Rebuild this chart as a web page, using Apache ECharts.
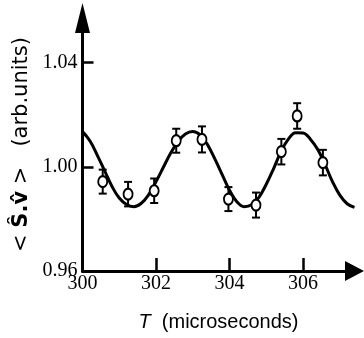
<!DOCTYPE html>
<html>
<head>
<meta charset="utf-8">
<script src="https://cdn.jsdelivr.net/npm/echarts@6/dist/echarts.min.js"></script>
<style>
html,body{margin:0;padding:0;background:#fff;}
#c{width:364px;height:338px;}
</style>
</head>
<body>
<div id="c"></div>
<script>
// Fitted curve
const curveT = [300.0, 300.2, 300.4, 300.6, 300.8, 301.0, 301.2, 301.4, 301.6, 301.8,
  302.0, 302.2, 302.4, 302.6, 302.8, 303.0, 303.2, 303.4, 303.6, 303.8,
  304.0, 304.2, 304.4, 304.6, 304.8, 305.0, 305.2, 305.4, 305.6, 305.8,
  306.0, 306.2, 306.4, 306.6, 306.8, 307.0, 307.2, 307.4];
const curveV = [1.0135, 1.0100, 1.0045, 0.9985, 0.9925, 0.9880, 0.9855, 0.9847, 0.9860, 0.9893,
  0.9943, 0.9998, 1.0053, 1.0097, 1.0126, 1.0135, 1.0122, 1.0085, 1.0030, 0.9970,
  0.9910, 0.9866, 0.9847, 0.9854, 0.9883, 0.9933, 0.9993, 1.0058, 1.0106, 1.0131,
  1.0130, 1.0106, 1.0066, 1.0008, 0.9943, 0.9891, 0.9858, 0.9844];
// Measured points with error bars
const pointT = [300.55, 301.24, 301.95, 302.55, 303.25, 303.97, 304.72, 305.41, 305.84, 306.54];
const pointV = [0.9943, 0.9895, 0.9908, 1.0100, 1.0105, 0.9876, 0.9853, 1.0058, 1.0195, 1.0016];
const pointErr = [0.0046, 0.0047, 0.0047, 0.0046, 0.0050, 0.0046, 0.0048, 0.0049, 0.0049, 0.0049];
// Axis ticks
const xTicks = [300, 302, 304, 306];
const yTicks = [0.96, 1.00, 1.04];

const curveData = curveT.map((t, i) => [t, curveV[i]]);
const pointData = pointT.map((t, i) => [t, pointV[i]]);
const errData = pointT.map((t, i) => [t, pointV[i] - pointErr[i], pointV[i] + pointErr[i]]);

const chart = echarts.init(document.getElementById('c'), null, {renderer: 'canvas'});
const serif = '"Liberation Serif", "Times New Roman", serif';
chart.setOption({
  backgroundColor: '#fff',
  animation: false,
  grid: {left: 82.5, right: 9.5, top: 18, bottom: 67, containLabel: false},
  xAxis: {
    type: 'value', min: 300, max: 307.4, interval: 2,
    name: '{t|T}  (microseconds)',
    nameLocation: 'middle', nameGap: 41,
    nameTextStyle: {
      fontFamily: '"Liberation Sans", Arial, sans-serif', fontSize: 20, color: '#000',
      rich: {t: {fontStyle: 'italic', fontFamily: '"Liberation Sans", Arial, sans-serif', fontSize: 20, color: '#000'}}
    },
    splitLine: {show: false},
    axisLine: {show: true, onZero: false, lineStyle: {color: '#000', width: 3},
      symbol: ['none', 'triangle'], symbolSize: [20, 19]},
    axisTick: {show: true, inside: true, length: 13, lineStyle: {color: '#000', width: 2.5}, customValues: [302, 304, 306]},
    axisLabel: {show: true, customValues: xTicks, margin: 3, color: '#000', fontFamily: serif, fontSize: 20,
      formatter: v => String(Math.round(v))}
  },
  yAxis: {
    type: 'value', min: 0.96, max: 1.0571, interval: 0.04,
    name: '{n|<} {b|Ŝ.v̂} {n|>}   {n|(arb.units)}',
    nameLocation: 'middle', nameGap: 38, nameRotate: 90,
    nameTextStyle: {
      fontFamily: '"DejaVu Sans", sans-serif', fontSize: 21, color: '#000',
      rich: {
        n: {fontFamily: '"DejaVu Sans", sans-serif', fontSize: 21, color: '#000'},
        b: {fontFamily: '"DejaVu Sans", sans-serif', fontSize: 21, fontWeight: 'bold', color: '#000'}
      }
    },
    splitLine: {show: false},
    axisLine: {show: true, onZero: false, lineStyle: {color: '#000', width: 3},
      symbol: ['none', 'triangle'], symbolSize: [15, 30]},
    axisTick: {show: true, inside: true, length: 11, lineStyle: {color: '#000', width: 2.5}, customValues: [1.00, 1.04]},
    axisLabel: {show: true, customValues: yTicks, margin: 5, color: '#000', fontFamily: serif, fontSize: 20,
      formatter: v => v.toFixed(2)}
  },
  series: [
    {
      type: 'line', data: curveData, smooth: 0.4, showSymbol: false, symbol: 'none',
      lineStyle: {color: '#000', width: 3}, clip: false, z: 2
    },
    {
      type: 'custom', data: errData, z: 3, clip: false,
      renderItem: function (params, api) {
        const x = api.value(0);
        const lo = api.coord([x, api.value(1)]);
        const hi = api.coord([x, api.value(2)]);
        const cw = 4;
        const st = {stroke: '#000', lineWidth: 2};
        return {
          type: 'group',
          children: [
            {type: 'line', shape: {x1: lo[0], y1: lo[1], x2: hi[0], y2: hi[1]}, style: st},
            {type: 'line', shape: {x1: lo[0] - cw, y1: lo[1], x2: lo[0] + cw, y2: lo[1]}, style: st},
            {type: 'line', shape: {x1: hi[0] - cw, y1: hi[1], x2: hi[0] + cw, y2: hi[1]}, style: st}
          ]
        };
      }
    },
    {
      type: 'scatter', data: pointData, symbol: 'circle', symbolSize: [9, 11], z: 4,
      itemStyle: {color: '#fff', borderColor: '#000', borderWidth: 2, opacity: 1}
    }
  ]
});
</script>
</body>
</html>
